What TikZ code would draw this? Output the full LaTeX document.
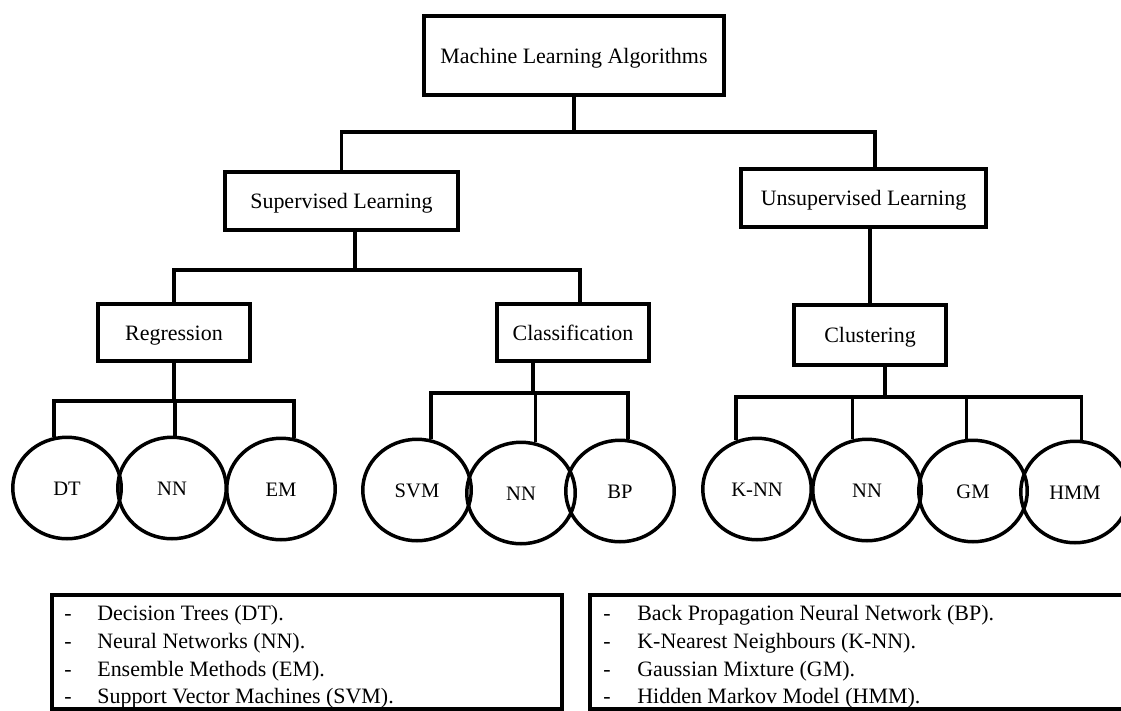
\documentclass[tikz,border=0pt]{standalone}
\usepackage{fontspec}
\setmainfont{Liberation Serif}
\usetikzlibrary{shapes.geometric}

\begin{document}
\begin{tikzpicture}[x=0.02cm,y=-0.02cm,
    algbox/.style={draw,rectangle,line width=0.08cm,inner sep=0pt,
      minimum width=3.04cm,minimum height=1.14cm,
      text height=0.95em,text depth=0.05em,
      font=\fontsize{12.5}{15}\selectfont},
    leaf/.style={draw,ellipse,line width=0.07cm,inner sep=0pt,
      minimum width=2.17cm,minimum height=2.03cm,
      text height=0.95em,text depth=0.05em,
      font=\fontsize{11.7}{14}\selectfont},
    keybox/.style={draw,rectangle,line width=0.09cm,minimum height=2.28cm},
    keytext/.style={anchor=north west,inner sep=0pt,
      font=\fontsize{12.5}{15.87}\selectfont},
    link/.style={line width=0.075cm}]
  \useasboundingbox (0,0) rectangle (1121,710);
  \draw
    (574,55.5) node[algbox,minimum width=6cm,minimum height=1.58cm] (mla){Machine Learning Algorithms}
    (341.5,201) node[algbox,minimum width=4.66cm,minimum height=1.16cm] (sup){Supervised Learning}
    (863.5,198) node[algbox,minimum width=4.9cm,minimum height=1.16cm] (uns){Unsupervised Learning}
    (174,332.5) node[algbox] (reg){Regression}
    (573,332.5) node[algbox] (cls){Classification}
    (870,335) node[algbox,minimum height=1.2cm] (clu){Clustering};
  \draw
    (67,488) node[leaf] (dt){DT}
    (172,488) node[leaf] (nn1){NN}
    (281,489) node[leaf] (em){EM}
    (417,490) node[leaf] (svm){SVM}
    (521,493) node[leaf] (nn2){NN}
    (620,491) node[leaf] (bp){BP}
    (757,489) node[leaf] (knn){K-NN}
    (867,490) node[leaf] (nn3){NN}
    (973,491) node[leaf] (gm){GM}
    (1075,492) node[leaf] (hmm){HMM};
  \coordinate (j0) at (574,132);
  \coordinate (j1) at (355,270);
  \coordinate (j2) at (174,401);
  \coordinate (j3) at (533,393);
  \coordinate (j4) at (885,397);
  \begin{scope}[link]
    \draw (mla.south) -- (j0);
    \draw (j0) -| (sup.north);
    \draw (j0) -| ([xshift=0.23cm]uns.north);
    \draw ([xshift=0.27cm]sup.south) -- (j1);
    \draw (j1) -| (reg.north);
    \draw (j1) -| ([xshift=0.14cm]cls.north);
    \draw (clu.north) -- (clu.north |- uns.south);
    \draw (reg.south) -- (j2);
    \draw (j2) -| (dt.104);
    \draw (j2) -| (nn1.87);
    \draw (j2) -| (em.76);
    \draw ([xshift=-0.8cm]cls.south) -- (j3);
    \draw (j3) -| (svm.75);
    \draw (j3) -| (nn2.74);
    \draw (j3) -| (bp.81);
    \draw ([xshift=0.3cm]clu.south) -- (j4);
    \draw (j4) -| (knn.113);
    \draw (j4) -| (nn3.106);
    \draw (j4) -| (gm.97);
    \draw (j4) -| (hmm.83);
  \end{scope}
  \draw
    (307,652) node[keybox,minimum width=10.2cm] (leg1){}
    (890,652) node[keybox,minimum width=12cm] (leg2){};
  \node[keytext] (key1) at (64,600.4) {\begin{tabular}{@{}p{0.66cm}@{}l@{}}
    - & Decision Trees (DT).\\
    - & Neural Networks (NN).\\
    - & Ensemble Methods (EM).\\
    - & Support Vector Machines (SVM).
  \end{tabular}};
  \node[keytext] (key2) at (603,600.4) {\begin{tabular}{@{}p{0.68cm}@{}l@{}}
    - & Back Propagation Neural Network (BP).\\
    - & K-Nearest Neighbours (K-NN).\\
    - & Gaussian Mixture (GM).\\
    - & Hidden Markov Model (HMM).
  \end{tabular}};
\end{tikzpicture}
\end{document}
